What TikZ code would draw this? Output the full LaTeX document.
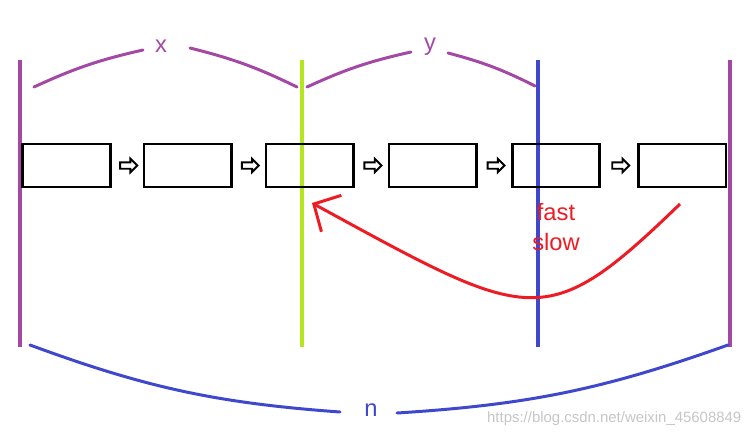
\documentclass[tikz,border=0pt]{standalone}
\usepackage{fontspec}
\setmainfont{Liberation Sans}
\usepackage{tikz}
\usetikzlibrary{arrows.meta, positioning, shapes.arrows}
\usepackage{xcolor}
\definecolor{mspurple}{RGB}{163,73,164}
\definecolor{mslime}{RGB}{181,230,29}
\definecolor{msblue}{RGB}{63,72,204}
\definecolor{msred}{RGB}{237,28,36}

\begin{document}
\begin{tikzpicture}[
    box/.style={draw, line width=1.5pt, minimum width=1.75cm, minimum height=0.86cm},
    hollow/.style={single arrow, draw, line width=1.1pt, inner xsep=0pt, inner ysep=0.045cm,
      minimum height=0.34cm, single arrow head extend=0.07cm, single arrow head indent=0pt},
    wall/.style={line width=1.8pt},
    brace/.style={line width=1.7pt, line cap=round},
    lab/.style={font=\fontsize{13.5}{16}\selectfont}
  ]
    \useasboundingbox (0,0) rectangle (15.04,8.74);

    % Walls
    \draw[wall, mspurple] (0.4,1.8) -- (0.4,7.54);
    \draw[wall, mslime] (6.04,1.8) -- (6.04,7.54);
    \draw[wall, msblue] (10.76,1.8) -- (10.76,7.54);
    \draw[wall, mspurple] (14.6,1.8) -- (14.6,7.54);

    % List nodes
    \node[box] (n1) at (1.33,5.43) {};
    \node[box, right=0.62cm of n1] (n2) {};
    \node[box, right=0.64cm of n2] (n3) {};
    \node[box, right=0.66cm of n3] (n4) {};
    \node[box, right=0.66cm of n4] (n5) {};
    \node[box, right=0.72cm of n5] (n6) {};

    % Links
    \path (n1) -- (n2) node[hollow, midway] (l12) {};
    \path (n2) -- (n3) node[hollow, midway] (l23) {};
    \path (n3) -- (n4) node[hollow, midway] (l34) {};
    \path (n4) -- (n5) node[hollow, midway] (l45) {};
    \path (n5) -- (n6) node[hollow, midway] (l56) {};

    % Brace x
    \node[lab, mspurple] (labx) at (3.22,7.82) {x};
    \draw[brace, mspurple] (0.68,7.0) to[bend left=6] (2.86,7.74);
    \draw[brace, mspurple] (3.8,7.78) to[bend left=6] (5.94,7.0);

    % Brace y
    \node[lab, mspurple] (laby) at (8.6,7.8) {y};
    \draw[brace, mspurple] (6.14,7.0) to[bend left=6] (8.22,7.7);
    \draw[brace, mspurple] (8.96,7.68) to[bend left=6] (10.7,7.02);

    % Brace n
    \node[lab, msblue] (labn) at (7.42,0.54) {n};
    \draw[brace, msblue] (0.6,1.84) to[bend right=8] (6.8,0.5);
    \draw[brace, msblue] (7.94,0.48) to[bend right=8] (14.56,1.84);

    % Fast and slow meet
    \node[lab, msred] (fast) at (11.12,4.5) {fast};
    \node[lab, msred] (slow) at (11.12,3.9) {slow};
    \coordinate (rstart) at (13.6,4.66);
    \coordinate (rtip) at (6.24,4.68);
    \draw[line width=1.7pt, msred, -{Straight Barb[length=4mm, width=8.3mm]}]
      (rstart) .. controls (10.9,2.05) and (10.64,2.28) .. (rtip);

    % Watermark
    \node[anchor=east, text=gray!45, font=\fontsize{8.5}{10}\selectfont] (mark) at (14.95,0.36) {https://blog.csdn.net/weixin\_45608849};
  \end{tikzpicture}
\end{document}
